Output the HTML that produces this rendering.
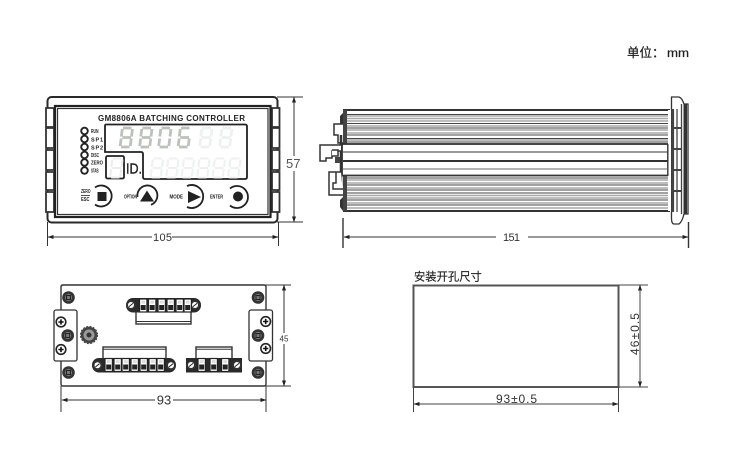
<!DOCTYPE html>
<html><head><meta charset="utf-8"><style>
html,body{margin:0;padding:0;background:#fff;width:750px;height:459px;overflow:hidden}
svg{display:block}
text{font-family:"Liberation Sans","Noto Sans CJK SC",sans-serif}
</style></head><body>
<svg width="750" height="459" viewBox="0 0 750 459" xmlns="http://www.w3.org/2000/svg">
<defs>
<marker id="a" markerWidth="6" markerHeight="6" refX="5.5" refY="2" orient="auto-start-reverse" markerUnits="userSpaceOnUse"><path d="M0 0L6 2L0 4z" fill="#222"/></marker>
<g id="dg" fill="none" stroke-width="2.1"><path d="M2.500 0H11M1.800 1L.8 8.500M12 1L11 8.500M1.800 9.500H10.500M.7 10.500L-.3 18M10.800 10.500L9.800 18M.6 19H9"/></g>
<g id="d0" fill="none" stroke-width="2.800"><path d="M2.500 0H11M1.800 1L.8 8.500M12 1L11 8.500M.7 10.500L-.3 18M10.800 10.500L9.800 18M.6 19H9"/></g>
<g id="d6" fill="none" stroke-width="2.800"><path d="M2.500 0H11M1.800 1L.8 8.500M1.800 9.500H10.500M.7 10.500L-.3 18M10.800 10.500L9.800 18M.6 19H9"/></g>
<g id="d8" fill="none" stroke-width="2.800"><path d="M2.500 0H11M1.800 1L.8 8.500M12 1L11 8.500M1.800 9.500H10.500M.7 10.500L-.3 18M10.800 10.500L9.800 18M.6 19H9"/></g>
<g id="sc"><circle r="4.800" fill="#333"/><circle r="3" fill="#fff"/><path d="M-2 1.600L2 -1.600" stroke="#222" stroke-width="1"/></g>
<g id="cr"><circle r="6.300" fill="#333"/><circle r="3.600" fill="#777"/><rect x="-2" y="-2" width="4" height="4" fill="none" stroke="#222"/></g>
<g id="ph"><circle r="5.600" fill="#222"/><circle r="4" fill="#fff"/><path d="M-2.600 0H2.600M0 -2.600V2.600" stroke="#111" stroke-width="1.600"/></g>
<g id="pin"><rect x="0" y="0" width="7.400" height="13" fill="#fff" stroke="#222" stroke-width="1.200"/><rect x="1.200" y="6" width="5" height="5" fill="#222"/><rect x="1.800" y="1.600" width="3.800" height="3" fill="#ddd"/></g>
</defs>

<text x="627" y="57" font-size="12.500" fill="#222" stroke="#222" stroke-width=".25">单位：</text>
<text x="667" y="57" font-size="12" fill="#222" stroke="#222" stroke-width=".2" textLength="22" lengthAdjust="spacingAndGlyphs">mm</text>

<!-- FRONT VIEW -->
<rect x="47.500" y="97" width="230" height="125.500" rx="4" fill="#fff" stroke="#2a2a2a" stroke-width="2"/>
<g fill="#fff" stroke="#333" stroke-width="1.800">
<path d="M46 108H54V127H46zM46 128H54V148H46zM46 150H54V170H46zM46 172H54V190H46zM46 192H54V212H46z"/>
<path d="M272 108H279.500V127H272zM272 128H279.500V148H272zM272 150H279.500V170H272zM272 172H279.500V190H272zM272 192H279.500V212H272z"/>
</g>
<rect x="55" y="106" width="215.500" height="111" fill="#fff" stroke="#222" stroke-width="2.200"/>
<rect x="57.500" y="108.500" width="210.500" height="106" fill="#fff" stroke="#333" stroke-width="1.200"/>
<text x="171.500" y="121" text-anchor="middle" font-size="8" font-weight="bold" fill="#222" textLength="147" lengthAdjust="spacing">GM8806A BATCHING CONTROLLER</text>
<path d="M106 124.500H245Q247 124.500 247 126.500V177Q247 179 245 179H145Q143 179 143 177V154Q143 152 141 152H105V126Q105 124.500 106 124.500Z" fill="#fff" stroke="#222" stroke-width="1.800"/>
<rect x="106" y="156" width="18" height="22.500" rx="1.500" fill="#fff" stroke="#222" stroke-width="1.800"/>
<use href="#dg" x="110.500" y="158.500" stroke="#ededed"/>
<g stroke="#bcc1bd" aria-label="8806">
<use href="#d8" x="120.500" y="128"/><use href="#d8" x="140" y="128"/><use href="#d0" x="159" y="128"/><use href="#d6" x="178.500" y="128"/>
</g>
<g stroke="#eff0f0">
<use href="#d8" x="200" y="128"/><use href="#d8" x="220" y="128"/>
<use href="#dg" x="151" y="158.500"/><use href="#dg" x="166.500" y="158.500"/><use href="#dg" x="182" y="158.500"/><use href="#dg" x="197.500" y="158.500"/><use href="#dg" x="213" y="158.500"/><use href="#dg" x="228.500" y="158.500"/>
</g>
<text x="126" y="173.500" font-size="14.500" fill="#222" stroke="#222" stroke-width=".4" textLength="16" lengthAdjust="spacingAndGlyphs">ID.</text>
<g fill="#fff" stroke="#222" stroke-width="1.900">
<circle cx="84.500" cy="131" r="3.300"/><circle cx="84.500" cy="139" r="3.300"/><circle cx="84.500" cy="147" r="3.300"/><circle cx="84.500" cy="155" r="3.300"/><circle cx="84.500" cy="162.500" r="3.300"/><circle cx="84.500" cy="170.500" r="3.300"/>
</g>
<g font-size="5.500" font-weight="bold" fill="#222" lengthAdjust="spacingAndGlyphs">
<text x="91" y="133" textLength="7.500" lengthAdjust="spacingAndGlyphs">RUN</text>
<text x="91" y="141.500" textLength="12">SP1</text>
<text x="91" y="149.500" textLength="12">SP2</text>
<text x="91" y="157.200" textLength="8" lengthAdjust="spacingAndGlyphs">DISC</text>
<text x="91" y="164.700" textLength="12" lengthAdjust="spacingAndGlyphs">ZERO</text>
<text x="91" y="172.500" textLength="7.500" lengthAdjust="spacingAndGlyphs">STAB</text>
</g>
<g fill="none" stroke="#222" stroke-width="1.800">
<path d="M95 187.500A10.500 10.500 0 1 1 95 204.500"/>
<path d="M137.500 197A10 10 0 1 1 151 204.800"/>
<path d="M187 186A11.500 11.500 0 1 1 187 207"/>
<path d="M230 188.500A11 11 0 1 1 230 205.500"/>
</g>
<path d="M97.500 192H106.500V201H97.500z" fill="#222"/>
<path d="M147 190.500L154 201.500H140z" fill="#222"/>
<path d="M188 191L201 197L188 203z" fill="#222"/>
<circle cx="238" cy="196.500" r="5" fill="#222"/>
<g font-size="5.500" font-weight="bold" fill="#222">
<text x="81" y="193" textLength="9.500" lengthAdjust="spacingAndGlyphs">ZERO</text>
<path d="M81 195.500H90" stroke="#222" stroke-width=".8"/>
<text x="81" y="201" textLength="8.500" lengthAdjust="spacingAndGlyphs">ESC</text>
<text x="124" y="198.500" textLength="13" lengthAdjust="spacingAndGlyphs">OPTION</text>
<text x="169.500" y="198.500" textLength="13.500" lengthAdjust="spacingAndGlyphs">MODE</text>
<text x="210" y="198.500" textLength="13" lengthAdjust="spacingAndGlyphs">ENTER</text>
</g>
<!-- front dims -->
<g stroke="#333" stroke-width="1" fill="none">
<path d="M277 97H303M277 222H303"/>
<path d="M294 97V222" marker-start="url(#a)" marker-end="url(#a)"/>
<path d="M47.500 222V246M278.500 222V246"/>
<path d="M48 237H152M172 237H278" marker-start="url(#a)" marker-end="url(#a)"/>
</g>
<rect x="285" y="156" width="17" height="15" fill="#fff"/>
<text x="286" y="168" font-size="13" fill="#555">57</text>
<text x="153" y="241" font-size="11" fill="#333" textLength="19">105</text>

<!-- SIDE VIEW -->
<g>
<rect x="345" y="110" width="325" height="101" fill="#fff"/>
<g stroke="#a8a8a8" stroke-width="1.400">
<path d="M346 116H670M346 118.500H670M346 121H670M346 126H670M346 130H670M346 133H670M346 140H670M346 180H670M346 183H670M346 188H670M346 195.500H670M346 198H670M346 203H670M346 208H670"/>
</g>
<g stroke="#444" stroke-width="1">
<path d="M346 114.500H670M346 123.500H670M346 128H670M346 135H670M346 138.500H670M346 142H670M346 178H670M346 185H670M346 190H670M346 193H670M346 200H670M346 205H670"/>
</g>
<path d="M343 110H670M343 211H670" stroke="#333" stroke-width="2"/>
<rect x="343" y="110" width="4" height="101" fill="#444"/>
<rect x="342" y="144" width="326" height="31.500" fill="#fff" stroke="#333" stroke-width="1.800"/>
<path d="M343 152H668" stroke="#333" stroke-width="1"/>
<path d="M343 161H668" stroke="#333" stroke-width="2"/>
<path d="M343 169H668" stroke="#888" stroke-width="1.200"/>
<g fill="#fff" stroke="#333" stroke-width="1.500">
<path d="M343 124H334V135H338V143H343"/>
<path d="M341 135V190" stroke-width="2.500"/>
<path d="M341 145H320V161H326V158H332V151H341"/>
<path d="M332 150H338V156H332"/>
<path d="M341 172H329V195H343"/>
<path d="M336 172V183H333V189H343"/>
</g>
<path d="M343 113L340 116L340 124H343zM343 197L340 200V207L343 211z" fill="#333"/>
<rect x="335" y="157" width="5" height="6" fill="#444"/>
<!-- right flange -->
<path d="M671.500 108V97H679Q682 98 684 104H688V214H684Q682 222 679 224H674Q671.500 224 671.500 218V108Z" fill="#fff" stroke="#333" stroke-width="1.300"/>
<rect x="683.500" y="104" width="3.500" height="110" fill="#333"/>
<rect x="671.500" y="109" width="2.600" height="103" fill="#444"/>
<path d="M677 109V212M681.500 104V214" stroke="#444" stroke-width="1.300"/>
<path d="M671 128H682M671 149H682M671 170H682M671 191H682" stroke="#444" stroke-width="2"/>
<rect x="668" y="110" width="3" height="101" fill="#fff"/>
<path d="M668 144V176" stroke="#333" stroke-width="1"/>
</g>
<g stroke="#333" stroke-width="1" fill="none">
<path d="M343 218V248M688.500 222V248" stroke-width="1.400"/>
<path d="M344 237H496M528 237H688" marker-start="url(#a)" marker-end="url(#a)"/>
</g>
<text x="503" y="241" font-size="11" fill="#333" textLength="17">151</text>

<!-- BACK VIEW -->
<path d="M63 285H264Q266 285 266 287V384Q266 386 264 386H63Q61 386 61 384V287Q61 285 63 285Z" fill="#fff" stroke="#333" stroke-width="1.400"/>
<rect x="54" y="310" width="23" height="51" rx="2" fill="#fff" stroke="#333" stroke-width="1.300"/>
<rect x="249" y="310" width="23.500" height="51" rx="2" fill="#fff" stroke="#333" stroke-width="1.300"/>
<use href="#cr" x="68.500" y="297.500"/><use href="#cr" x="258" y="297.500"/><use href="#cr" x="68.500" y="372.500"/><use href="#cr" x="258" y="372.500"/>
<use href="#cr" x="67.700" y="335.500"/><use href="#cr" x="258" y="335.500"/>
<use href="#ph" x="61" y="322"/><use href="#ph" x="61" y="349.500"/><use href="#ph" x="265.700" y="321.500"/><use href="#ph" x="265.700" y="348.500"/>
<circle cx="89" cy="335" r="8.300" fill="#444"/><circle cx="89" cy="335" r="5.500" fill="#999"/><circle cx="89" cy="335" r="2.500" fill="#333"/>
<g stroke="#444" stroke-width="1" fill="none" stroke-dasharray="2 1.400"><circle cx="89" cy="335" r="8.600"/></g>
<!-- top connector -->
<rect x="136" y="305" width="55" height="19" fill="#fff" stroke="#333" stroke-width="1.400"/>
<path d="M136 321.500H191" stroke="#333" stroke-width="1"/>
<rect x="126" y="298" width="75" height="14.500" rx="7" fill="#2a2a2a"/>
<use href="#sc" x="131" y="305"/><use href="#sc" x="195" y="305"/>
<use href="#pin" x="139.500" y="299"/><use href="#pin" x="148.500" y="299"/><use href="#pin" x="158" y="299"/><use href="#pin" x="167" y="299"/><use href="#pin" x="176" y="299"/><use href="#pin" x="184" y="299"/>
<!-- bottom-left connector -->
<rect x="103" y="347" width="63" height="20" fill="#fff" stroke="#333" stroke-width="1.400"/>
<path d="M103 349.200H166" stroke="#333" stroke-width="1"/>
<rect x="92" y="358" width="84" height="14.500" rx="7" fill="#2a2a2a"/>
<use href="#sc" x="97.500" y="365.300"/><use href="#sc" x="171" y="365.300"/>
<use href="#pin" x="105" y="358.500"/><use href="#pin" x="114" y="358.500"/><use href="#pin" x="122" y="358.500"/><use href="#pin" x="131" y="358.500"/><use href="#pin" x="140" y="358.500"/><use href="#pin" x="149" y="358.500"/><use href="#pin" x="157" y="358.500"/>
<!-- bottom-right connector -->
<rect x="196" y="347" width="36" height="20" fill="#fff" stroke="#333" stroke-width="1.400"/>
<path d="M196 349.200H232" stroke="#333" stroke-width="1"/>
<rect x="186" y="358" width="56" height="14.500" fill="#2a2a2a"/>
<use href="#sc" x="191" y="365"/><use href="#sc" x="237" y="365"/>
<use href="#pin" x="198" y="358.500"/><use href="#pin" x="210" y="358.500"/><use href="#pin" x="221.500" y="358.500"/>
<!-- back dims -->
<g stroke="#333" stroke-width="1" fill="none">
<path d="M266 285H291M266 386H291"/>
<path d="M284 285V386" marker-start="url(#a)" marker-end="url(#a)"/>
<path d="M61 386V412M266 386V412"/>
<path d="M62 400H155M173 400H266" marker-start="url(#a)" marker-end="url(#a)"/>
</g>
<rect x="278" y="333" width="12" height="11" fill="#fff"/>
<text x="284" y="341.500" font-size="8" fill="#333" text-anchor="middle">45</text>
<text x="164" y="404.500" font-size="13" fill="#333" text-anchor="middle">93</text>

<!-- CUTOUT -->
<text x="414" y="280.500" font-size="11.300" fill="#222" stroke="#222" stroke-width=".15">安装开孔尺寸</text>
<rect x="413.500" y="285.500" width="205" height="101.500" fill="#fff" stroke="#555" stroke-width="2"/>
<g stroke="#444" stroke-width="1" fill="none">
<path d="M619 285H648M619 387H648"/>
<path d="M640 285V387" marker-start="url(#a)" marker-end="url(#a)"/>
<path d="M413.500 387V412M618.500 387V412"/>
<path d="M414 404H618" marker-start="url(#a)" marker-end="url(#a)"/>
</g>
<text x="496" y="403" font-size="12" fill="#333" textLength="41">93±0.5</text>
<text transform="translate(639 355) rotate(-90)" font-size="12" fill="#333" textLength="42">46±0.5</text>
</svg>
</body></html>
